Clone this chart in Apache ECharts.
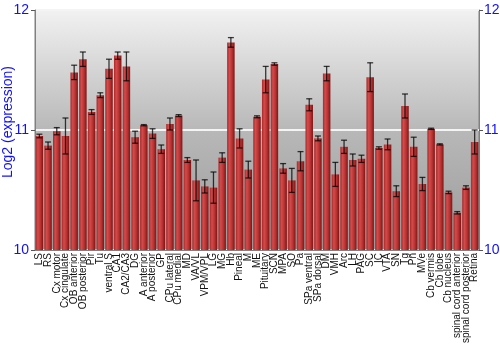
<!DOCTYPE html>
<html><head><meta charset="utf-8">
<script src="https://cdn.jsdelivr.net/npm/echarts@6/dist/echarts.min.js"></script>
<style>html,body{margin:0;padding:0;background:#fff}#c{width:500px;height:350px}</style>
</head><body><div id="c"></div>
<script>
const categories = ["LS","RS","Cx motor","Cx cingulate","OB anterior","OB posterior","Pir","Tu","ventral S","CA1","CA2/CA3","DG","A anterior","A posterior","GP","CPu lateral","CPu medial","MD","VA/VL","VPM/VPL","LG","MG","Hb","Pineal","M","ME","Pituitary","SCN","MPA","SO","Pa","SPa ventral","SPa dorsal","DM","VMH","Arc","LH","PAG","SC","IC","VTA","SN","Tg","Pn","MVe","Cb vermis","Cb lobe","Cb nucleus","spinal cord anterior","spinal cord posterior","Retina"];
const values = [10.95,10.87,10.99,10.95,11.48,11.59,11.15,11.29,11.51,11.62,11.53,10.94,11.04,10.97,10.84,11.05,11.12,10.75,10.58,10.53,10.52,10.77,11.73,10.93,10.67,11.11,11.42,11.55,10.68,10.58,10.74,11.21,10.93,11.47,10.63,10.86,10.75,10.76,11.44,10.85,10.88,10.49,11.2,10.86,10.55,11.01,10.88,10.48,10.31,10.52,10.9];
const errors = [0.015,0.03,0.03,0.15,0.06,0.06,0.02,0.02,0.08,0.03,0.12,0.05,0.005,0.04,0.035,0.05,0.008,0.02,0.17,0.055,0.13,0.04,0.04,0.08,0.07,0.008,0.11,0.01,0.04,0.1,0.08,0.05,0.02,0.06,0.1,0.055,0.05,0.03,0.12,0.01,0.045,0.045,0.1,0.08,0.055,0.005,0.005,0.01,0.01,0.015,0.1];
const yTicks = [10,11,12];

const chart = echarts.init(document.getElementById('c'), null, {renderer:'canvas'});
const G = echarts.graphic;
const axisLabelStyle = {color:'#1010ff', fontSize:14, fontFamily:'Liberation Sans, Arial, sans-serif'};
chart.setOption({
  animation:false,
  grid:{left:35,right:21,top:10,bottom:100,containLabel:false,outerBoundsMode:'none',show:true,borderColor:'#808080',borderWidth:1,
    backgroundColor:new G.LinearGradient(0,0,0,1,[{offset:0,color:'#f2f2f2'},{offset:0.5,color:'#b8b8b8'},{offset:1,color:'#9a9a9a'}])},
  xAxis:{type:'category',data:categories,
    axisLine:{show:true,lineStyle:{color:'#808080'}},axisTick:{show:false},
    axisLabel:{rotate:90,interval:0,margin:3,color:'#111',fontSize:10,fontFamily:'Liberation Sans, Arial, sans-serif'},
    splitLine:{show:false}},
  yAxis:[
    {type:'value',min:10,max:12,interval:1,position:'left',
     name:'Log2 (expression)',nameLocation:'middle',nameGap:20,nameMoveOverlap:false,
     nameTextStyle:{color:'#1010ff',fontSize:14,padding:[0,0,0,16],fontFamily:'Liberation Sans, Arial, sans-serif'},
     axisLine:{show:true,lineStyle:{color:'#808080'}},axisTick:{show:true,length:4,lineStyle:{color:'#555'}},
     axisLabel:Object.assign({margin:6,formatter:v=>yTicks.includes(v)?String(v):''},axisLabelStyle),
     splitLine:{show:true,lineStyle:{color:'#f4f4f4',width:2}}},
    {type:'value',min:10,max:12,interval:1,position:'right',
     axisLine:{show:true,lineStyle:{color:'#808080'}},axisTick:{show:true,length:4,lineStyle:{color:'#555'}},
     axisLabel:Object.assign({margin:5,formatter:v=>yTicks.includes(v)?String(v):''},axisLabelStyle),
     splitLine:{show:false}}
  ],
  series:[
    {type:'bar',data:values,barCategoryGap:'14%',
     itemStyle:{color:new G.LinearGradient(0,0,1,0,[{offset:0,color:'#a82828'},{offset:0.3,color:'#d24c4c'},{offset:0.65,color:'#b83232'},{offset:1,color:'#7e1414'}])}},
    {type:'custom',data:values.map((v,i)=>[i,v,errors[i]]),z:5,
     renderItem:function(params,api){
       const i=api.value(0),v=api.value(1),e=api.value(2);
       const hi=api.coord([i,v+e]),lo=api.coord([i,v-e]);
       const x=hi[0],w=3;
       const st={stroke:'rgba(0,0,0,0.75)',lineWidth:1.3};
       return {type:'group',children:[
         {type:'line',shape:{x1:x,y1:hi[1],x2:x,y2:lo[1]},style:st},
         {type:'line',shape:{x1:x-w,y1:hi[1],x2:x+w,y2:hi[1]},style:st},
         {type:'line',shape:{x1:x-w,y1:lo[1],x2:x+w,y2:lo[1]},style:st}
       ]};
     }}
  ]
});
</script></body></html>
